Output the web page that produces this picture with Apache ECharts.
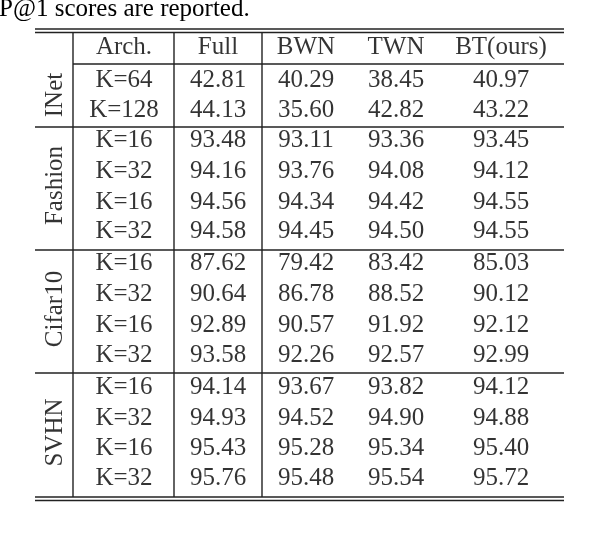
<!DOCTYPE html>
<html><head><meta charset="utf-8">
<script src="https://cdn.jsdelivr.net/npm/echarts@6/dist/echarts.min.js"></script>
<style>html,body{margin:0;background:#fff}#c{width:596px;height:538px}</style>
</head><body><div id="c"></div>
<script>
// table content
const headers = ['Arch.', 'Full', 'BWN', 'TWN', 'BT(ours)'];
const groups = ['INet', 'Fashion', 'Cifar10', 'SVHN'];
const groupSizes = [2, 4, 4, 4];
const archs = ['K=64', 'K=128', 'K=16', 'K=32', 'K=16', 'K=32', 'K=16', 'K=32', 'K=16', 'K=32', 'K=16', 'K=32', 'K=16', 'K=32'];
const full = ['42.81', '44.13', '93.48', '94.16', '94.56', '94.58', '87.62', '90.64', '92.89', '93.58', '94.14', '94.93', '95.43', '95.76'];
const bwn = ['40.29', '35.60', '93.11', '93.76', '94.34', '94.45', '79.42', '86.78', '90.57', '92.26', '93.67', '94.52', '95.28', '95.48'];
const twn = ['38.45', '42.82', '93.36', '94.08', '94.42', '94.50', '83.42', '88.52', '91.92', '92.57', '93.82', '94.90', '95.34', '95.54'];
const bt = ['40.97', '43.22', '93.45', '94.12', '94.55', '94.55', '85.03', '90.12', '92.12', '92.99', '94.12', '94.88', '95.40', '95.72'];

const colX = [124, 218, 306, 396, 501];
const headerY = 47;
const rowY = [80, 110, 140, 171, 202, 231, 263, 294, 325, 355, 387, 418, 448, 478];
const font = '"Liberation Serif", "DejaVu Serif", serif';
const fs = 25;

const cells = [];
headers.forEach((h, i) => cells.push([colX[i], headerY, h]));
[archs, full, bwn, twn, bt].forEach((col, c) => {
    col.forEach((v, r) => cells.push([colX[c], rowY[r], v]));
});

const groupCells = [];
let idx = 0;
groups.forEach((g, i) => {
    const a = rowY[idx], b = rowY[idx + groupSizes[i] - 1];
    groupCells.push([55, (a + b) / 2, g]);
    idx += groupSizes[i];
});

const L = 35, R = 564;
const line = (x1, y1, x2, y2, w) => ({type: 'line', shape: {x1, y1, x2, y2}, style: {stroke: '#222', lineWidth: w || 1.4}});
const graphics = [
    line(L, 29, R, 29), line(L, 32.5, R, 32.5),
    line(73, 64, R, 64),
    line(L, 127, R, 127), line(L, 250, R, 250), line(L, 373, R, 373),
    line(L, 497, R, 497), line(L, 500.5, R, 500.5),
    line(73, 32.5, 73, 497), line(174, 32.5, 174, 497), line(262, 32.5, 262, 497),
    {type: 'text', left: -1, top: -3, style: {text: 'P@1 scores are reported.', font: fs + 'px ' + font, fill: '#000'}}
];

const chart = echarts.init(document.getElementById('c'));
chart.setOption({
    animation: false,
    grid: {left: 0, top: 0, width: 596, height: 538},
    xAxis: {type: 'value', min: 0, max: 596, show: false},
    yAxis: {type: 'value', min: 0, max: 538, inverse: true, show: false},
    graphic: graphics,
    series: [{
        type: 'scatter', symbolSize: 0, data: cells,
        label: {show: true, position: 'inside', formatter: p => p.value[2], fontFamily: font, fontSize: fs, color: '#000'}
    }, {
        type: 'scatter', symbolSize: 0, data: groupCells,
        label: {show: true, position: 'inside', rotate: 90, formatter: p => p.value[2], fontFamily: font, fontSize: fs, color: '#000'}
    }]
});
</script></body></html>
